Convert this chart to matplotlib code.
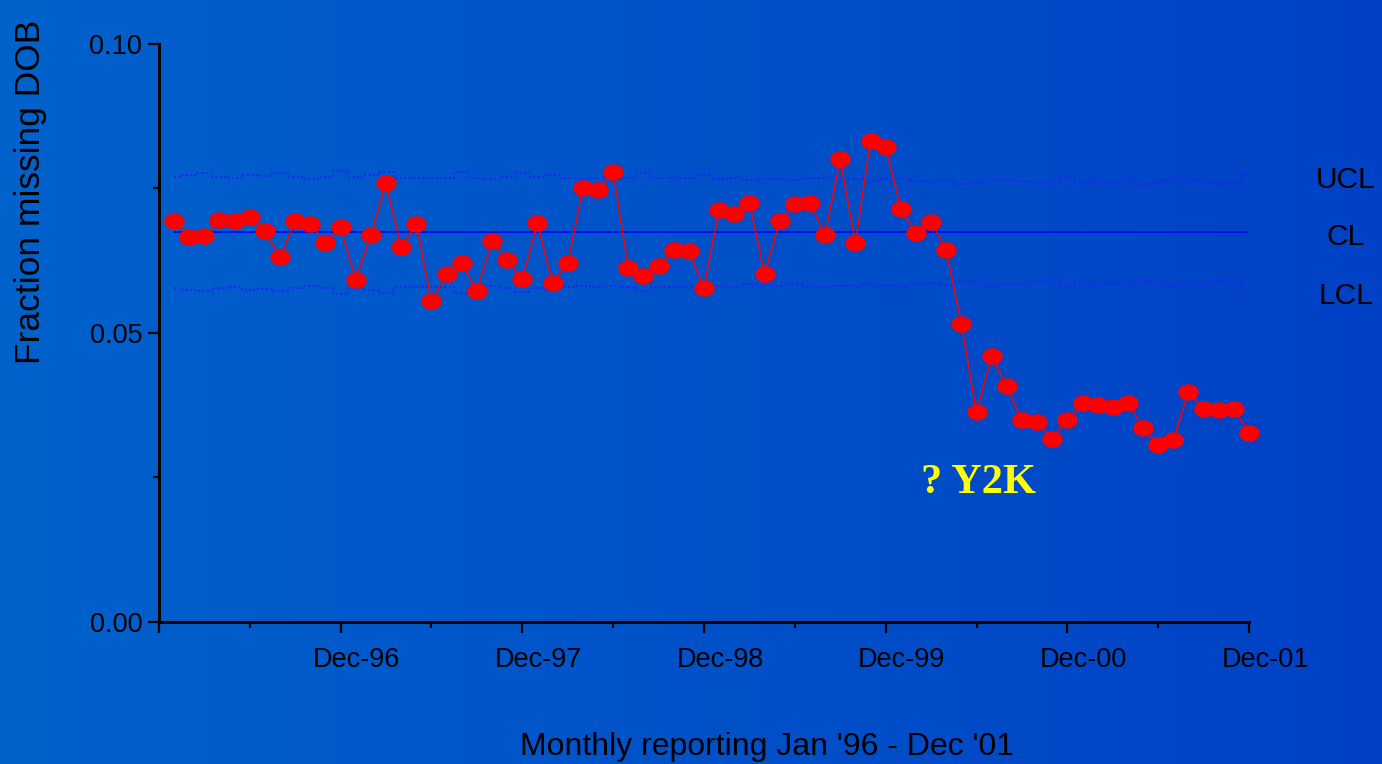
import numpy as np
import matplotlib
matplotlib.use('Agg')
import matplotlib.pyplot as plt
import matplotlib.transforms as mtransforms
from matplotlib.path import Path
from matplotlib.colors import LinearSegmentedColormap

# monthly data, Jan '96 (1) .. Dec '01 (72)
months = np.arange(1, 73)
frac = [0.0694, 0.0666, 0.0668, 0.0696, 0.0694, 0.0701, 0.0676, 0.0631, 0.0694, 0.0689, 0.0656, 0.0683,
        0.0592, 0.0670, 0.0760, 0.0649, 0.0689, 0.0555, 0.0602, 0.0621, 0.0573, 0.0659, 0.0626, 0.0593,
        0.0690, 0.0587, 0.0621, 0.0751, 0.0747, 0.0779, 0.0612, 0.0599, 0.0616, 0.0644, 0.0642, 0.0578,
        0.0713, 0.0706, 0.0725, 0.0602, 0.0694, 0.0723, 0.0725, 0.0670, 0.0801, 0.0656, 0.0832, 0.0822,
        0.0715, 0.0673, 0.0692, 0.0644, 0.0516, 0.0363, 0.0460, 0.0408, 0.0349, 0.0346, 0.0317, 0.0349,
        0.0379, 0.0375, 0.0372, 0.0379, 0.0336, 0.0306, 0.0315, 0.0398, 0.0369, 0.0367, 0.0369, 0.0327]
ucl = [0.0770, 0.0773, 0.0776, 0.0770, 0.0768, 0.0773, 0.0772, 0.0776, 0.0770, 0.0766, 0.0770, 0.0780,
       0.0770, 0.0773, 0.0778, 0.0768, 0.0769, 0.0768, 0.0768, 0.0778, 0.0769, 0.0766, 0.0770, 0.0777,
       0.0770, 0.0773, 0.0769, 0.0766, 0.0768, 0.0766, 0.0768, 0.0776, 0.0769, 0.0768, 0.0768, 0.0773,
       0.0767, 0.0768, 0.0764, 0.0767, 0.0766, 0.0764, 0.0769, 0.0769, 0.0766, 0.0766, 0.0763, 0.0767,
       0.0766, 0.0763, 0.0761, 0.0765, 0.0758, 0.0759, 0.0767, 0.0764, 0.0763, 0.0759, 0.0757, 0.0769,
       0.0760, 0.0765, 0.0762, 0.0763, 0.0757, 0.0761, 0.0766, 0.0765, 0.0765, 0.0758, 0.0761, 0.0775]
lcl = [0.0578, 0.0575, 0.0572, 0.0578, 0.0580, 0.0575, 0.0576, 0.0572, 0.0578, 0.0582, 0.0578, 0.0568,
       0.0578, 0.0575, 0.0570, 0.0580, 0.0579, 0.0580, 0.0580, 0.0570, 0.0579, 0.0582, 0.0578, 0.0571,
       0.0578, 0.0575, 0.0579, 0.0582, 0.0580, 0.0582, 0.0580, 0.0572, 0.0579, 0.0580, 0.0580, 0.0575,
       0.0581, 0.0580, 0.0584, 0.0581, 0.0582, 0.0584, 0.0579, 0.0579, 0.0582, 0.0582, 0.0585, 0.0581,
       0.0582, 0.0585, 0.0587, 0.0583, 0.0590, 0.0589, 0.0581, 0.0584, 0.0585, 0.0589, 0.0591, 0.0579,
       0.0588, 0.0583, 0.0586, 0.0585, 0.0591, 0.0587, 0.0582, 0.0583, 0.0583, 0.0590, 0.0587, 0.0573]
cl = 0.0675
xtick_pos = [12, 24, 36, 48, 60, 72]
xtick_lab = ['Dec-96', 'Dec-97', 'Dec-98', 'Dec-99', 'Dec-00', 'Dec-01']
ytick_pos = [0.0, 0.05, 0.10]
ytick_lab = ['0.00', '0.05', '0.10']

plt.rcParams['font.family'] = ['Liberation Sans', 'DejaVu Sans']

fig = plt.figure(figsize=(13.82, 7.64), dpi=100)

# blue gradient background
bg = fig.add_axes([0, 0, 1, 1], zorder=0)
cmap = LinearSegmentedColormap.from_list('bg', ['#0062cc', '#0041c6'])
bg.imshow(np.linspace(0, 1, 256).reshape(1, -1), cmap=cmap, aspect='auto', extent=[0, 1, 0, 1])
bg.axis('off')

ax = fig.add_axes([0.1150, 0.1859, 0.7888, 0.7565], zorder=1)
ax.set_facecolor('none')

# control limits
ax.step(months, ucl, where='mid', color='#2020ff', lw=1.4, ls=(0, (1.0, 1.3)))
ax.step(months, lcl, where='mid', color='#2020ff', lw=1.4, ls=(0, (1.0, 1.3)))
ax.plot([months[0], months[-1]], [cl, cl], color='#0000ff', lw=1.2)

# elliptical markers
t = np.linspace(0, 2 * np.pi, 64)
ell = Path(np.column_stack([1.27 * np.cos(t), np.sin(t)]))
ax.plot(months, frac, color='#ff0000', lw=1.1, marker=ell, ms=13.7,
        mfc='#ff0000', mec='#ff0000', clip_on=False, zorder=3)

ax.set_xlim(0, 72)
ax.set_ylim(0, 0.10)
for s in ['top', 'right']:
  ax.spines[s].set_visible(False)
for s in ['left', 'bottom']:
  ax.spines[s].set_linewidth(2.2)
  ax.spines[s].set_color('black')

ax.set_xticks([0] + xtick_pos)
ax.set_xticklabels([''] + xtick_lab)
ax.set_xticks([6, 18, 30, 42, 54, 66], minor=True)
ax.set_yticks(ytick_pos)
ax.set_yticklabels(ytick_lab)
ax.set_yticks([0.025, 0.075], minor=True)
ax.tick_params(which='major', direction='out', length=8, width=1.6, labelsize=19.5, colors='black')
ax.tick_params(which='minor', direction='out', length=4.5, width=1.6)
ax.tick_params(axis='x', which='major', pad=10)
ax.tick_params(axis='y', which='major', pad=4)

# month labels sit a little right of their ticks
shift = mtransforms.ScaledTranslation(0.16, 0, fig.dpi_scale_trans)
for lab in ax.get_xticklabels():
  lab.set_transform(lab.get_transform() + shift)

for lab, yy in [('UCL', 0.0765), ('CL', 0.0666), ('LCL', 0.0564)]:
  ax.text(78.4, yy, lab, ha='center', va='center', fontsize=21.5, color='black', clip_on=False)

ax.text(54.1, 0.0240, '? Y2K', ha='center', va='center', fontsize=30.5, fontweight='bold',
        color='#ffff00', family=['Liberation Serif', 'DejaVu Serif'])

fig.text(31 / 1382, 1 - 192 / 764, 'Fraction missing DOB', rotation=90, ha='center', va='center',
         fontsize=25.5, color='black')
fig.text(767 / 1382, 1 - 747 / 764, "Monthly reporting Jan '96 - Dec '01", ha='center', va='center',
         fontsize=23, color='black')

fig.savefig('out.png', dpi=100)
